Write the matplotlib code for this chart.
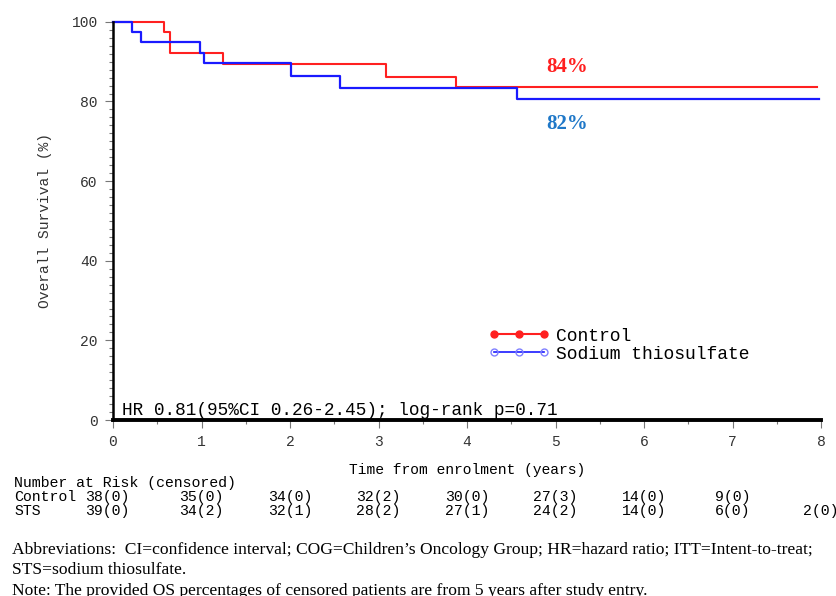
import matplotlib.pyplot as plt
from matplotlib.ticker import MultipleLocator

# Kaplan-Meier step data (years, % surviving)
ctrl_t = [0, 0.58, 0.64, 1.24, 3.08, 3.87, 7.95]
ctrl_s = [100, 97.4, 92.1, 89.5, 86.2, 83.6, 83.6]
sts_t = [0, 0.22, 0.32, 0.98, 1.03, 2.01, 2.56, 4.57, 7.98]
sts_s = [100, 97.4, 94.9, 92.3, 89.7, 86.5, 83.5, 80.6, 80.6]

# number at risk table
risk_years = [0, 1, 2, 3, 4, 5, 6, 7, 8]
ctrl_risk = ["38(0)", "35(0)", "34(0)", "32(2)", "30(0)", "27(3)", "14(0)", "9(0)", ""]
sts_risk = ["39(0)", "34(2)", "32(1)", "28(2)", "27(1)", "24(2)", "14(0)", "6(0)", "2(0)"]

mono = "Liberation Mono"
serif = "Liberation Serif"
red = "#ff2020"
blue = "#1a1aff"

fig = plt.figure(figsize=(8.37, 5.96), dpi=100)
ax = fig.add_axes([0.135, 0.2953, 0.846, 0.668])

ax.step(ctrl_t, ctrl_s, where="post", color=red, lw=1.5, clip_on=False)
ax.step(sts_t, sts_s, where="post", color=blue, lw=1.6, clip_on=False)

# legend handles
ax.plot([], [], color=red, lw=1.5, marker="o", ms=5, label="Control")
ax.plot([], [], color=blue, lw=1.2, marker="o", ms=5, mfc="none",
        mec="#8080ff", label="Sodium thiosulfate")
ax.legend(loc="upper left", bbox_to_anchor=(0.52, 0.25), frameon=False,
          numpoints=3, handlelength=3.4, handletextpad=0.35, labelspacing=0.05,
          prop={"family": mono, "size": 13}, borderaxespad=0)

ax.text(5.13, 88.7, "84%", color=red, fontsize=15, fontweight="bold",
        family=serif, ha="center", va="center")
ax.text(5.13, 74.4, "82%", color="#1f78c8", fontsize=15, fontweight="bold",
        family=serif, ha="center", va="center")

ax.text(0.013, 0.003, "HR 0.81(95%CI 0.26-2.45); log-rank p=0.71",
        transform=ax.transAxes, family=mono, fontsize=12.8, va="bottom")

ax.set_xlim(0, 8)
ax.set_ylim(0, 100)
ax.xaxis.set_major_locator(MultipleLocator(1))
ax.xaxis.set_minor_locator(MultipleLocator(0.5))
ax.yaxis.set_major_locator(MultipleLocator(20))
ax.yaxis.set_minor_locator(MultipleLocator(2))
for s in ["top", "right"]:
    ax.spines[s].set_visible(False)
ax.spines["left"].set_linewidth(1.8)
ax.spines["bottom"].set_linewidth(2.8)
ax.tick_params(which="major", length=6, width=0.8, color="#777777",
               labelsize=10.5, labelcolor="#333333", pad=5)
ax.tick_params(which="minor", length=3, width=0.8, color="#777777")
for lab in ax.get_xticklabels() + ax.get_yticklabels():
    lab.set_family(mono)

ax.set_xlabel("Time from enrolment (years)", family=mono, fontsize=10.5,
              labelpad=10)
ax.set_ylabel("Overall Survival (%)", family=mono, fontsize=10.5,
              color="#333333", labelpad=14)

# number at risk rows
fs = 10.7
fig.text(14 / 837, 1 - 483 / 596, "Number at Risk (censored)", family=mono,
         fontsize=fs, va="center")
fig.text(14 / 837, 1 - 497 / 596, "Control", family=mono, fontsize=fs, va="center")
fig.text(14 / 837, 1 - 511 / 596, "STS", family=mono, fontsize=fs, va="center")
for yr, c, s in zip(risk_years, ctrl_risk, sts_risk):
    xr = yr - 0.07 if yr == 0 else yr
    xf = ax.transData.transform((xr, 0))[0] / fig.bbox.width
    for txt, ypix in [(c, 497), (s, 511)]:
        fig.text(xf, 1 - ypix / 596, txt, family=mono, fontsize=fs,
                 ha="center", va="center")

notes = [
    "Abbreviations:  CI=confidence interval; COG=Children\u2019s Oncology Group; "
    "HR=hazard ratio; ITT=Intent-to-treat;",
    "STS=sodium thiosulfate.",
    "Note: The provided OS percentages of censored patients are from 5 years after study entry.",
]
for i, line in enumerate(notes):
    fig.text(12 / 837, 1 - (550 + 20.5 * i) / 596, line, family=serif,
             fontsize=12.6, va="center")

fig.savefig("out.png", dpi=100)
